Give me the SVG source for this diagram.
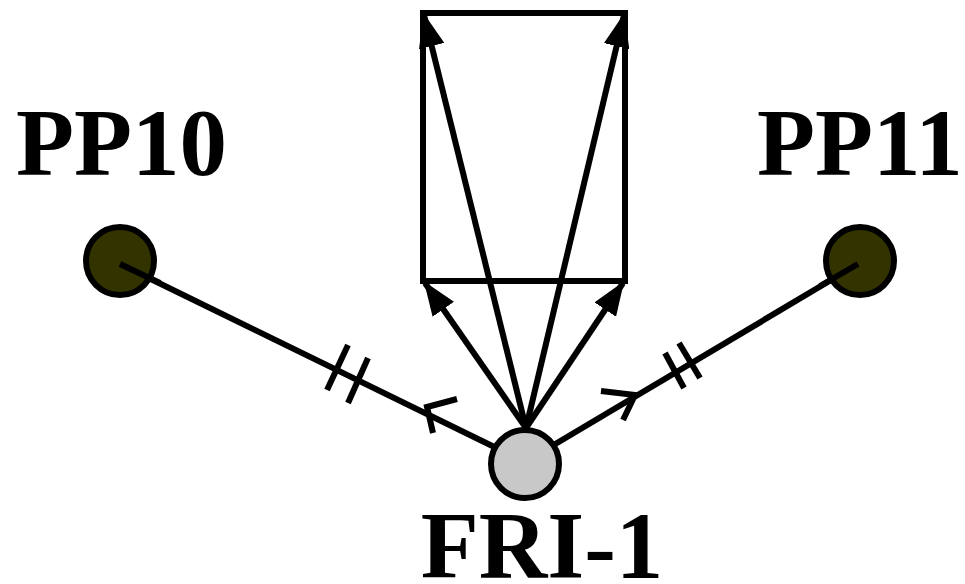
<svg xmlns="http://www.w3.org/2000/svg" width="965" height="584" viewBox="0 0 965 584">
<style>
.ln{stroke:#000;stroke-width:6;fill:none;stroke-linecap:butt}
.lbl{font-family:"Liberation Serif","Times New Roman",serif;font-weight:bold;font-size:95px;fill:#000}
.pp{fill:#333300;stroke:#000;stroke-width:6}
.fri{fill:#c8c8c8;stroke:#000;stroke-width:6}
</style>
<defs>
<marker id="ah" viewBox="0 0 34 26" refX="32" refY="13" markerWidth="34" markerHeight="26" markerUnits="userSpaceOnUse" orient="auto">
<path d="M0,0 L34,13 L0,26 Z" fill="#000"/>
</marker>
</defs>
<g id="box">
<rect x="423" y="13" width="202" height="268" class="ln"/>
</g>
<g id="connectors">
<line x1="526" y1="428" x2="424" y2="15" class="ln" marker-end="url(#ah)"/>
<line x1="526" y1="428" x2="624" y2="15" class="ln" marker-end="url(#ah)"/>
<line x1="526" y1="428" x2="425" y2="283" class="ln" marker-end="url(#ah)"/>
<line x1="526" y1="428" x2="623" y2="283" class="ln" marker-end="url(#ah)"/>
<line x1="120" y1="264" x2="525" y2="462" class="ln"/>
<line x1="858" y1="264" x2="525" y2="462" class="ln"/>
<line x1="348" y1="345" x2="327" y2="390" class="ln"/>
<line x1="368" y1="358" x2="348" y2="403" class="ln"/>
<polyline points="457,399 427,407 433,433" class="ln"/>
<line x1="665" y1="353" x2="684" y2="388" class="ln"/>
<line x1="679" y1="343" x2="700" y2="378" class="ln"/>
<polyline points="601,391 635,395 623,420" class="ln"/>
</g>
<g id="PP10">
<circle cx="120" cy="261" r="34" class="pp"/>
<line x1="120" y1="264" x2="160" y2="283" class="ln"/>
<text x="16" y="175" class="lbl">PP10</text>
</g>
<g id="PP11">
<circle cx="860" cy="261" r="34" class="pp"/>
<line x1="858" y1="264" x2="820" y2="286" class="ln"/>
<text x="757" y="175" class="lbl">PP11</text>
</g>
<g id="FRI-1">
<circle cx="525" cy="464" r="34" class="fri"/>
<text x="542" y="578" class="lbl" text-anchor="middle">FRI-1</text>
</g>
</svg>
